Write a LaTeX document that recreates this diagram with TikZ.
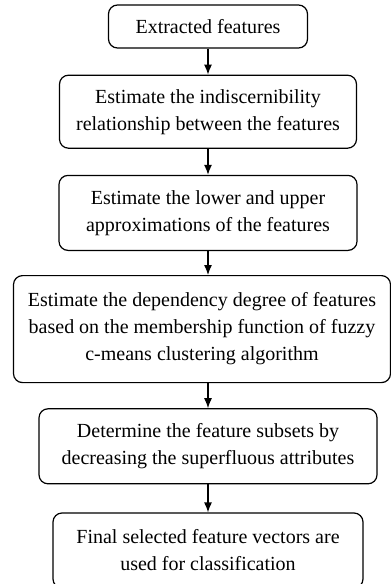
\documentclass[tikz,border=0pt]{standalone}
\usepackage{fontspec}
\setmainfont{Liberation Serif}
\usetikzlibrary{arrows.meta,positioning}

\begin{document}
\begin{tikzpicture}[
    >={Latex[length=5pt,width=4pt]},
    node distance=13pt,
    stepbox/.style={draw, line width=0.6pt, rounded corners=4.5pt, align=center, inner sep=2pt, font=\fontsize{10}{13.5}\selectfont}
]
\useasboundingbox (0,0) rectangle (195.5pt,-292pt);
\node[stepbox, minimum width=99.5pt, minimum height=21.5pt] (feat) at (104pt,-13.25pt) {Extracted features};
\node[stepbox, minimum width=148.5pt, minimum height=36.5pt, below=of feat] (indisc) {Estimate the indiscernibility\\relationship between the features};
\node[stepbox, minimum width=149pt, minimum height=37.5pt, below=of indisc] (approx) {Estimate the lower and upper\\approximations of the features};
\node[stepbox, minimum width=188.5pt, minimum height=53.5pt, below=12pt of approx, xshift=-3pt] (depdeg) {Estimate the dependency degree of features\\based on the membership function of fuzzy\\c-means clustering algorithm};
\node[stepbox, minimum width=169pt, minimum height=37.5pt, below=12.5pt of depdeg, xshift=3pt] (subset) {Determine the feature subsets by\\decreasing the superfluous attributes};
\node[stepbox, minimum width=155pt, minimum height=37.5pt, below=14pt of subset] (final) {Final selected feature vectors are\\used for classification};

\draw[->, line width=0.6pt] (feat) -- (indisc);
\draw[->, line width=0.6pt] (indisc) -- (approx);
\draw[->, line width=0.6pt] (approx.south) -- (approx.south |- depdeg.north);
\draw[->, line width=0.6pt] (approx.south |- depdeg.south) -- (subset.north);
\draw[->, line width=0.6pt] (subset) -- (final);
\end{tikzpicture}
\end{document}
